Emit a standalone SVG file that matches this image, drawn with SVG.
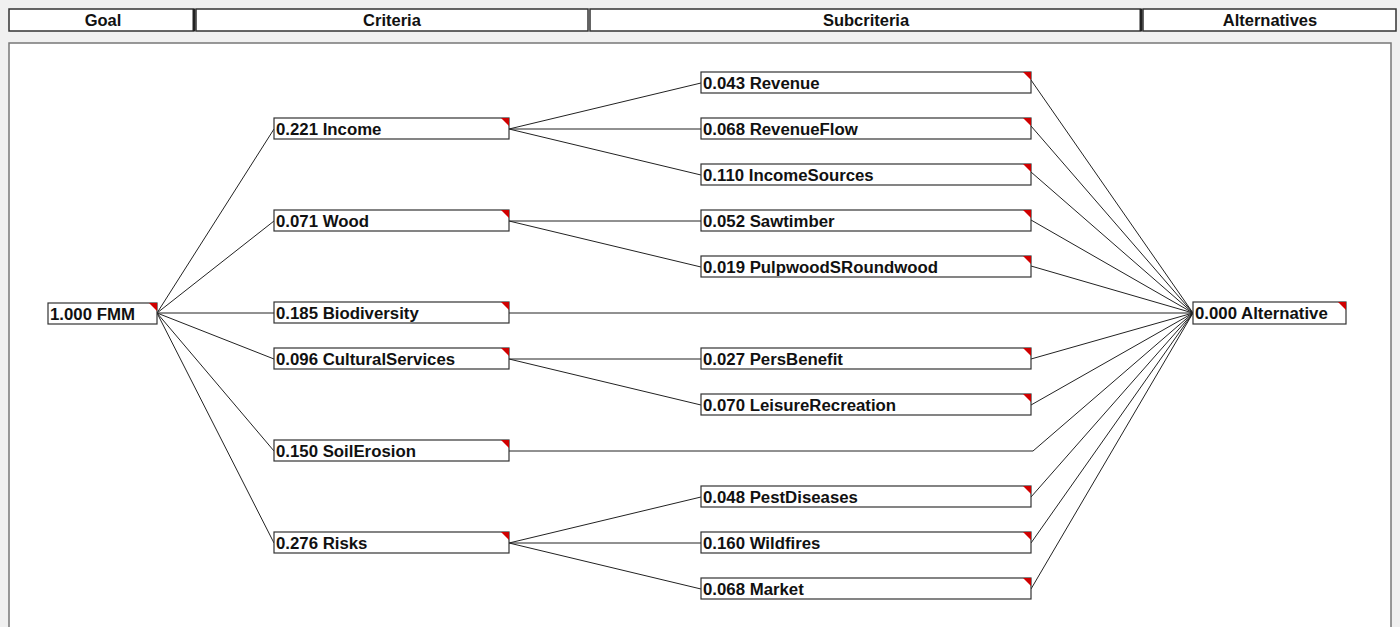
<svg xmlns="http://www.w3.org/2000/svg" width="1400" height="627" viewBox="0 0 1400 627">
<style>
.hdr{fill:#fff;stroke:#333;stroke-width:1.5}
.ht{font-family:"Liberation Sans",Arial,sans-serif;font-weight:bold;font-size:16.5px;fill:#111;text-anchor:middle}
.box{fill:#fff;stroke:#333;stroke-width:1.2}
.lbl{font-family:"Liberation Sans",Arial,sans-serif;font-weight:bold;font-size:16.8px;fill:#111}
.tri{fill:#d00000}
.con line,.con polyline{stroke:#222;stroke-width:1;fill:none}
</style>
<rect x="0" y="0" width="1400" height="627" fill="#f0f0f0"/>
<g id="header">
<rect class="hdr" x="9" y="9" width="185" height="22"/>
<line x1="194" y1="9" x2="194" y2="31" stroke="#222" stroke-width="3"/>
<text class="ht" x="103" y="26">Goal</text>
<rect class="hdr" x="196" y="9" width="392" height="22"/>
<text class="ht" x="392" y="26">Criteria</text>
<rect class="hdr" x="590" y="9" width="551" height="22"/>
<line x1="1141" y1="9" x2="1141" y2="31" stroke="#222" stroke-width="3"/>
<text class="ht" x="866" y="26">Subcriteria</text>
<rect class="hdr" x="1143" y="9" width="253" height="22"/>
<text class="ht" x="1270" y="26">Alternatives</text>
</g>
<rect x="9" y="43" width="1382" height="590" fill="#fff" stroke="#777" stroke-width="1.5"/>
<g class="con" id="connectors">
<line x1="157" y1="313" x2="274" y2="129"/>
<line x1="157" y1="313" x2="274" y2="221"/>
<line x1="157" y1="313" x2="274" y2="313"/>
<line x1="157" y1="313" x2="274" y2="359"/>
<line x1="157" y1="313" x2="274" y2="451"/>
<line x1="157" y1="313" x2="274" y2="543"/>
<line x1="509" y1="129" x2="701" y2="83"/>
<line x1="509" y1="129" x2="701" y2="129"/>
<line x1="509" y1="129" x2="701" y2="175"/>
<line x1="509" y1="221" x2="701" y2="221"/>
<line x1="509" y1="221" x2="701" y2="267"/>
<line x1="509" y1="313" x2="1193" y2="313"/>
<line x1="509" y1="359" x2="701" y2="359"/>
<line x1="509" y1="359" x2="701" y2="405"/>
<polyline points="509,451 1033,451 1193,313"/>
<line x1="509" y1="543" x2="701" y2="497"/>
<line x1="509" y1="543" x2="701" y2="543"/>
<line x1="509" y1="543" x2="701" y2="589"/>
<line x1="1031" y1="80" x2="1193" y2="313"/>
<line x1="1031" y1="126" x2="1193" y2="313"/>
<line x1="1031" y1="172" x2="1193" y2="313"/>
<line x1="1031" y1="220" x2="1193" y2="313"/>
<line x1="1031" y1="266" x2="1193" y2="313"/>
<line x1="1031" y1="359" x2="1193" y2="313"/>
<line x1="1031" y1="405" x2="1193" y2="313"/>
<line x1="1031" y1="497" x2="1193" y2="313"/>
<line x1="1031" y1="543" x2="1193" y2="313"/>
<line x1="1031" y1="589" x2="1193" y2="313"/>
</g>
<g id="n-fmm"><rect class="box" x="48" y="303" width="109" height="21"/><polygon class="tri" points="149,303 157,303 157,311"/><text class="lbl" x="50" y="319.5">1.000 FMM</text></g>
<g id="n-income"><rect class="box" x="274" y="118" width="235" height="21"/><polygon class="tri" points="501,118 509,118 509,126"/><text class="lbl" x="276" y="134.5">0.221 Income</text></g>
<g id="n-wood"><rect class="box" x="274" y="210" width="235" height="21"/><polygon class="tri" points="501,210 509,210 509,218"/><text class="lbl" x="276" y="226.5">0.071 Wood</text></g>
<g id="n-biodiversity"><rect class="box" x="274" y="302" width="235" height="21"/><polygon class="tri" points="501,302 509,302 509,310"/><text class="lbl" x="276" y="318.5">0.185 Biodiversity</text></g>
<g id="n-cultural"><rect class="box" x="274" y="348" width="235" height="21"/><polygon class="tri" points="501,348 509,348 509,356"/><text class="lbl" x="276" y="364.5">0.096 CulturalServices</text></g>
<g id="n-soil"><rect class="box" x="274" y="440" width="235" height="21"/><polygon class="tri" points="501,440 509,440 509,448"/><text class="lbl" x="276" y="456.5">0.150 SoilErosion</text></g>
<g id="n-risks"><rect class="box" x="274" y="532" width="235" height="21"/><polygon class="tri" points="501,532 509,532 509,540"/><text class="lbl" x="276" y="548.5">0.276 Risks</text></g>
<g id="n-revenue"><rect class="box" x="701" y="72" width="330" height="21"/><polygon class="tri" points="1023,72 1031,72 1031,80"/><text class="lbl" x="703" y="88.5">0.043 Revenue</text></g>
<g id="n-revenueflow"><rect class="box" x="701" y="118" width="330" height="21"/><polygon class="tri" points="1023,118 1031,118 1031,126"/><text class="lbl" x="703" y="134.5">0.068 RevenueFlow</text></g>
<g id="n-incomesources"><rect class="box" x="701" y="164" width="330" height="21"/><polygon class="tri" points="1023,164 1031,164 1031,172"/><text class="lbl" x="703" y="180.5">0.110 IncomeSources</text></g>
<g id="n-sawtimber"><rect class="box" x="701" y="210" width="330" height="21"/><polygon class="tri" points="1023,210 1031,210 1031,218"/><text class="lbl" x="703" y="226.5">0.052 Sawtimber</text></g>
<g id="n-pulpwood"><rect class="box" x="701" y="256" width="330" height="21"/><polygon class="tri" points="1023,256 1031,256 1031,264"/><text class="lbl" x="703" y="272.5">0.019 PulpwoodSRoundwood</text></g>
<g id="n-persbenefit"><rect class="box" x="701" y="348" width="330" height="21"/><polygon class="tri" points="1023,348 1031,348 1031,356"/><text class="lbl" x="703" y="364.5">0.027 PersBenefit</text></g>
<g id="n-leisure"><rect class="box" x="701" y="394" width="330" height="21"/><polygon class="tri" points="1023,394 1031,394 1031,402"/><text class="lbl" x="703" y="410.5">0.070 LeisureRecreation</text></g>
<g id="n-pest"><rect class="box" x="701" y="486" width="330" height="21"/><polygon class="tri" points="1023,486 1031,486 1031,494"/><text class="lbl" x="703" y="502.5">0.048 PestDiseases</text></g>
<g id="n-wildfires"><rect class="box" x="701" y="532" width="330" height="21"/><polygon class="tri" points="1023,532 1031,532 1031,540"/><text class="lbl" x="703" y="548.5">0.160 Wildfires</text></g>
<g id="n-market"><rect class="box" x="701" y="578" width="330" height="21"/><polygon class="tri" points="1023,578 1031,578 1031,586"/><text class="lbl" x="703" y="594.5">0.068 Market</text></g>
<g id="n-alternative"><rect class="box" x="1193" y="302" width="153" height="22"/><polygon class="tri" points="1338,302 1346,302 1346,310"/><text class="lbl" x="1195" y="318.5">0.000 Alternative</text></g>
</svg>
